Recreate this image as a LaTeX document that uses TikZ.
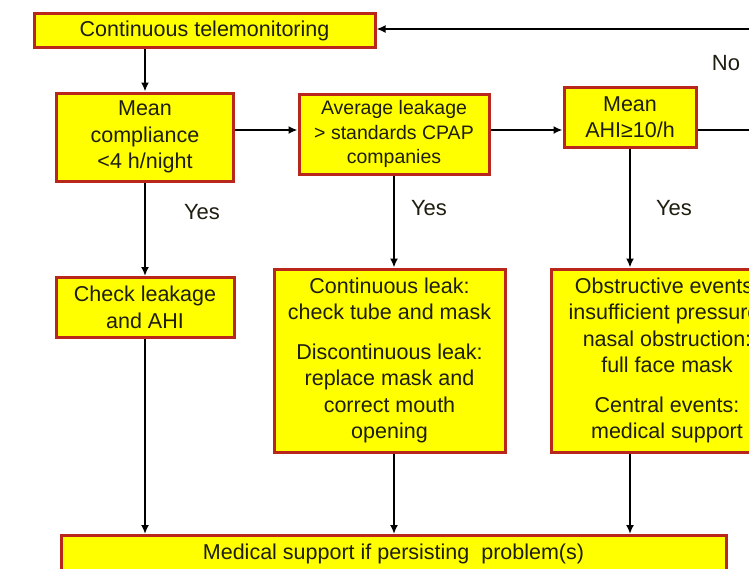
\documentclass[tikz,border=0pt]{standalone}
\usepackage{fontspec}
\setmainfont{Liberation Sans}
\usetikzlibrary{arrows.meta}
\definecolor{cyellow}{HTML}{FFFF00}
\definecolor{cred}{HTML}{B8261C}
\definecolor{ctext}{HTML}{1E1E10}
\tikzset{
  every picture/.style={line width=2.5pt},
  box/.style={draw=cred, fill=cyellow, line width=3pt, align=center, inner sep=0pt, text=ctext, font=\fontsize{21.5}{26.5}\selectfont},
  arrow/.style={-{Latex[length=9pt, width=8pt]}, draw=black, line width=2.5pt},
  note/.style={text=ctext, font=\fontsize{22}{26}\selectfont},
}

\begin{document}
\begin{tikzpicture}[x=1pt, y=-1pt]
  \useasboundingbox (0,0) rectangle (749,568);
  \clip (0,0) rectangle (749,568);
  \node[box, minimum width=341, minimum height=34] (tele) at (204.5,30.5) {Continuous telemonitoring};
  \node[box, minimum width=177, minimum height=88] (comp) at (145,137) {Mean\\compliance\\<4 h/night};
  \node[box, minimum width=190, minimum height=80, font=\fontsize{19.5}{24.5}\selectfont] (leak) at (394,134) {Average leakage\\> standards CPAP\\companies};
  \node[box, minimum width=132, minimum height=60] (ahi) at (630,117) {Mean\\AHI≥10/h};
  \node[box, minimum width=178, minimum height=60] (check) at (145,307.5) {Check leakage\\and AHI};
  \node[box, minimum width=231, minimum height=183] (cont) at (389.5,360.5) {Continuous leak:\\check tube and mask\\[13pt]Discontinuous leak:\\replace mask and\\correct mouth\\opening};
  \node[box, minimum width=232, minimum height=183] (obs) at (667,360.5) {Obstructive events:\\insufficient pressure,\\nasal obstruction:\\full face mask\\[13pt]Central events:\\medical support};
  \node[box, minimum width=665, minimum height=36] (bot) at (393.5,553.5) {Medical support if persisting\ \ problem(s)};
  \coordinate (row) at (0,130);
  \coordinate (loop) at (775,29);
  % main line
  \draw[arrow] (tele.south -| comp) -- (comp.north);
  \draw[arrow] (comp.east |- row) -- (leak.west |- row);
  \draw[arrow] (leak.east |- row) -- (ahi.west |- row);
  \draw[arrow] (ahi.east |- row) -- (loop |- row) -- (loop) -- (tele.east |- loop);
  \node[note] (no) at (726,63) {No};
  % yes branches
  \draw[arrow] (comp.south) -- (check.north);
  \draw[arrow] (leak.south) -- (leak.south |- cont.north);
  \draw[arrow] (ahi.south) -- (ahi.south |- obs.north);
  \node[note] (yes1) at (202,212) {Yes};
  \node[note] (yes2) at (429,208) {Yes};
  \node[note] (yes3) at (674,208) {Yes};
  % to medical support
  \draw[arrow] (check.south) -- (check.south |- bot.north);
  \draw[arrow] (cont.south -| leak) -- (leak |- bot.north);
  \draw[arrow] (obs.south -| ahi) -- (ahi |- bot.north);
\end{tikzpicture}
\end{document}
